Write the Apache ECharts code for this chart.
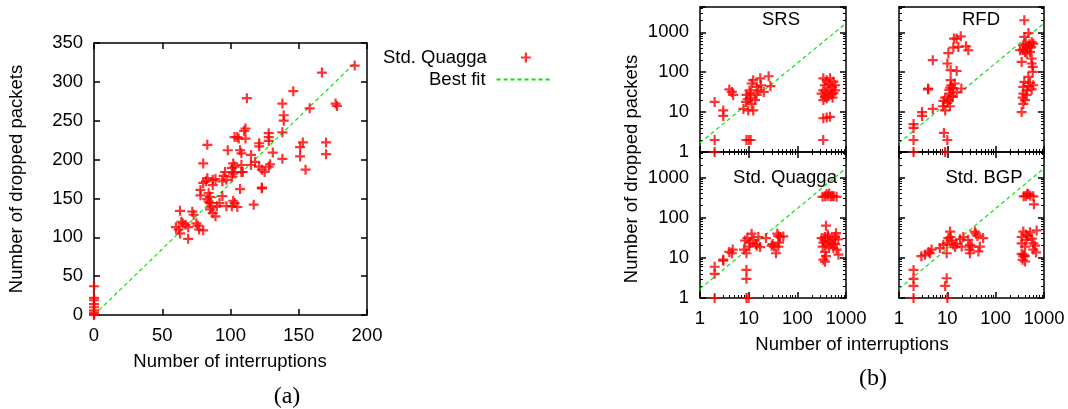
<!DOCTYPE html>
<html><head><meta charset="utf-8">
<script src="https://cdn.jsdelivr.net/npm/echarts@6/dist/echarts.min.js"></script>
<style>html,body{margin:0;padding:0;background:#fff}#c{width:1068px;height:409px}</style>
</head><body><div id="c"></div>
<script>
// ---------- DATA ----------
// (a) Std. Quagga: [interruptions, dropped packets]
const quaggaA = [
 [0,37],[0,22],[0,19],[0,14],[0,10],[0,6],[0,3],[0,1],[0,0],
 [191,321],[167,312],[146,288],[112,279],[138,272],[177,272],[178,269],[158,266],[139,257],[139,250],[138,235],
 [111,240],[110,237],[105,229],[106,227],[103,229],[111,227],[128,234],[128,229],[128,224],[121,221],[121,217],
 [83,219],[98,212],[107,212],[108,208],[115,206],[131,209],[138,201],[153,222],[151,216],[151,204],[155,187],
 [170,222],[170,207],[123,163],[117,142],[107,162],
 [80,195],[102,195],[103,191],[101,189],[108,193],[109,184],[102,184],[96,184],[95,179],[97,174],[89,175],
 [82,172],[87,167],[115,193],[118,197],[121,191],[123,187],[125,184],[128,191],[129,194],[123,164],
 [83,176],[87,174],[80,170],[94,172],[101,178],[102,182],[108,184],[78,161],[78,154],[84,157],[85,152],
 [83,149],[94,153],[84,146],[85,144],[86,139],[85,136],[87,131],[90,140],[92,144],[89,127],[97,140],
 [101,140],[102,147],[103,144],[105,139],[63,134],[72,133],[73,129],[64,120],[65,118],[60,113],[62,110],
 [67,116],[69,113],[75,118],[76,115],[77,110],[80,109],[63,105],[69,98]
];
const fitA = [[0,0],[191,324]];
const xTicksA = [0,50,100,150,200];
const yTicksA = [0,50,100,150,200,250,300,350];

// (b) panels: [interruptions, dropped packets]
const srs = [
 [2,18],[2,2],[2,1],[3,11],[3,8],[4,37],[4.5,32],[4.8,27],[9,2],[10,2],[11,2],
 [7.8,12],[8.8,18],[9,27],[10.4,35],[10.6,23],[11.5,52],[11.5,16],[12.4,63],[13.5,20],[14.6,27],[15.8,35],
 [17.3,70],[17.9,47],[20.4,32],[25.7,79],[28,45],[9.8,11],[12.4,11],[14.6,43],[11,30],[9.5,21],
 [340,2],[342,7],[401,7.3],[469,7.6],
 [342,70],[401,63],[469,70],[550,58],[368,47],[437,50],[510,43],[600,47],[342,35],[401,32],[469,35],
 [550,30],[315,29],[368,24],[437,25],[530,23],[342,20],[401,22],[510,28],[600,35]
];
const rfd = [
 [2,5],[2,4],[2,2],[2,1],[3,10],[3,8],[4,39],[4,37],[5,12],[5,200],[8.5,3],[10,2],[9,1],
 [10.5,300],[10,165],[11.7,112],[15.6,107],[11.7,63],[12,47],[11.5,41],[11,36],[13,39],[11.3,29],[12.1,25],
 [9,23],[8.3,19],[10,17],[10.5,20],[11.3,14],[9,11],[8.1,14],[13,24],[19.5,39],[15.6,32],[14.2,52],
 [13.3,414],[16.9,430],[18.9,794],[15.6,695],[13.7,695],[24.3,447],[27.2,355],
 [392,2000],[392,764],[475,955],[319,355],[362,369],[405,322],[438,414],[498,501],[556,572],[601,521],
 [513,322],[438,293],[373,473],[345,181],[556,220],[584,136],[556,165],[584,102],[475,76],[392,57],
 [601,47],[475,45],[556,37],[438,35],[373,29],[362,23],[405,20],[438,27],[373,16],[345,10],[513,54],
 [373,43],[450,400],[500,450],[420,520],[540,420]
];
const quaggaB = [
 [2,6],[2,4],[2,1],[3,9],[3,8.5],[4,14],[4.7,16],[4.5,13],[8,16],[9,13],[9,5],[9,3],[9,1],[10,1],
 [8.4,27],[9.4,31],[10.6,24],[11.5,40],[12.5,28],[10.3,19],[14.6,20],[17.1,18.5],[15.8,33],[22.7,31],[14,22],
 [40.6,35],[44,33],[38.8,40],[51.5,34],[29.7,20],[33,19],[31,22],[40.6,19],[42,24],[36.5,13],
 [330,330],[370,340],[400,390],[420,345],[450,400],[480,335],[520,345],[560,340],[640,330],
 [388,63],[316,31],[370,33],[433,34],[623,41],[594,33],[695,29],[469,26],[401,21],[332,19],[550,17.5],
 [643,16],[370,14],[388,11],[342,9],[370,8],[508,23],[550,29],[342,24],[420,38],[600,22],[700,12],[360,28],[450,19]
];
const bgp = [
 [2,5],[2,3],[2,2],[2,1],[9,2],[9.7,3.1],[10,1],[2.9,11],[3.45,12],[4.4,13],[4.7,16],[4.1,14],
 [7,17.5],[8.3,21],[9.7,23],[9.7,13],[10.5,31],[11.4,45],[12.3,27],[13.3,21],[14.4,18.5],[11.7,33],
 [15.6,22.4],[18.3,29],[21.4,33],[19.8,19],
 [37,45],[39,40],[42,35],[55,31],[27,28],[29.4,21],[28.5,16],[32,19],[44,14.4],[29.4,13],[47,19],
 [380,340],[420,345],[470,380],[520,350],[600,340],[620,215],[450,395],
 [373,45],[424,38],[513,43],[705,48],[345,33],[438,28],[601,23],[345,23],[405,19],[601,16],[684,13.6],
 [345,12.6],[373,10.8],[362,8.9],[405,8.1],[380,12],[400,11],[470,35],[560,30],[650,20]
];
const fitB = [[1,1.69],[1000,1690]];
const panelNames = ['SRS','RFD','Std. Quagga','Std. BGP'];
const panelData = [srs, rfd, quaggaB, bgp];
const logXRange = [1, 1000];
const logYRange = [1, 4300];

// ---------- STYLE / LAYOUT ----------
const RED = '#ff0000', GREEN = '#10e010';
const FONT = 'Liberation Sans, Arial, sans-serif';
const PLUS = 'path://M3.9,0H6.1V3.9H10V6.1H6.1V10H3.9V6.1H0V3.9H3.9Z';
const panelRects = [
  {left:700, top:7, width:146, height:145},
  {left:899, top:7, width:145, height:145},
  {left:700, top:152, width:146, height:146},
  {left:899, top:152, width:145, height:146}
];
const lineStyle = {color:'#000', width:1.5};
const lbl = {color:'#000', fontFamily:FONT, fontSize:18.5};

const grids = [{left:94, top:43, width:273, height:272}].concat(panelRects);
const xAxes = [], yAxes = [], series = [];

function linAxis(grid, pos, min, max, interval, showLabel){
  return {type:'value', gridIndex:grid, position:pos, min:min, max:max, interval:interval,
    axisLine:{show:true, onZero:false, lineStyle:lineStyle},
    axisTick:{show:true, inside:true, length:6, lineStyle:lineStyle},
    axisLabel:Object.assign({show:showLabel, margin:11}, lbl),
    splitLine:{show:false}};
}
function logFmt(v){ const l = Math.log10(v); return Math.abs(l - Math.round(l)) < 1e-6 ? String(Math.round(v)) : ''; }
function logAxis(grid, pos, range, showLabel, showTicks){
  return {type:'log', logBase:10, gridIndex:grid, position:pos, min:range[0], max:range[1],
    axisLine:{show:true, onZero:false, lineStyle:lineStyle},
    axisTick:{show:showTicks, inside:true, length:6, lineStyle:lineStyle},
    minorTick:{show:showTicks, splitNumber:9, length:3, lineStyle:{color:'#000', width:1}},
    axisLabel:Object.assign({show:showLabel, margin:11, formatter:logFmt}, lbl),
    splitLine:{show:false}, minorSplitLine:{show:false}};
}

// (a)
xAxes.push(linAxis(0,'bottom',xTicksA[0],xTicksA[xTicksA.length-1],xTicksA[1]-xTicksA[0],true));
xAxes.push(linAxis(0,'top',xTicksA[0],xTicksA[xTicksA.length-1],xTicksA[1]-xTicksA[0],false));
yAxes.push(linAxis(0,'left',yTicksA[0],yTicksA[yTicksA.length-1],yTicksA[1]-yTicksA[0],true));
yAxes.push(linAxis(0,'right',yTicksA[0],yTicksA[yTicksA.length-1],yTicksA[1]-yTicksA[0],false));
series.push({type:'scatter', name:'Std. Quagga', xAxisIndex:0, yAxisIndex:0, data:quaggaA,
  symbol:PLUS, symbolSize:10, itemStyle:{color:RED}, clip:false, z:3});
series.push({type:'line', name:'Best fit', xAxisIndex:0, yAxisIndex:0, data:fitA, symbol:'none',
  lineStyle:{color:GREEN, width:1.2, type:[4,3]}, itemStyle:{color:GREEN}, z:2});

// (b)
for (let p = 0; p < 4; p++){
  const g = p + 1, bottomRow = p >= 2, leftCol = p % 2 === 0;
  xAxes.push(logAxis(g,'bottom',logXRange,bottomRow,true));
  xAxes.push(logAxis(g,'top',logXRange,false,bottomRow));
  yAxes.push(logAxis(g,'left',logYRange,leftCol,true));
  yAxes.push(logAxis(g,'right',logYRange,false,true));
  const ai = 2 + 2*p;
  series.push({type:'scatter', name:panelNames[p] + ' ', xAxisIndex:ai, yAxisIndex:ai, data:panelData[p],
    symbol:PLUS, symbolSize:10, itemStyle:{color:RED}, clip:false, z:3});
  series.push({type:'line', name:'fit ' + p, xAxisIndex:ai, yAxisIndex:ai, data:fitB, symbol:'none',
    lineStyle:{color:GREEN, width:1.2, type:[4,3]}, z:2});
}

function txt(x, y, s, opts){
  return Object.assign({type:'text', x:x, y:y, silent:true,
    style:{text:s, fill:'#000', font:'18.5px ' + FONT, align:'center', verticalAlign:'middle'}}, opts || {});
}
const SERIF = '24px Liberation Serif, Times New Roman, serif';
const graphics = [
  txt(17, 179, 'Number of dropped packets', {rotation:Math.PI/2}),
  txt(230, 362, 'Number of interruptions'),
  {type:'text', x:287, y:397, silent:true, style:{text:'(a)', fill:'#000', font:SERIF, align:'center', verticalAlign:'middle'}},
  txt(632, 169, 'Number of dropped packets', {rotation:Math.PI/2}),
  txt(852, 345, 'Number of interruptions'),
  {type:'text', x:873, y:379, silent:true, style:{text:'(b)', fill:'#000', font:SERIF, align:'center', verticalAlign:'middle'}},
  txt(781, 20, panelNames[0]),
  txt(981, 20, panelNames[1]),
  txt(785, 178, panelNames[2]),
  txt(984, 178, panelNames[3])
];

const legendBase = {orient:'vertical', align:'right', padding:0, itemWidth:56, itemHeight:10,
  textStyle:{color:'#000', fontFamily:FONT, fontSize:18.5, padding:[0,6,0,0]}, selectedMode:false};

const chart = echarts.init(document.getElementById('c'), null, {renderer:'canvas'});
chart.setOption({
  animation:false,
  backgroundColor:'#fff',
  grid:grids,
  xAxis:xAxes,
  yAxis:yAxes,
  legend:[
    Object.assign({}, legendBase, {left:383, top:48, data:['Std. Quagga']}),
    Object.assign({}, legendBase, {left:429, top:70,
      data:[{name:'Best fit', itemStyle:{color:'rgba(0,0,0,0)', opacity:0, borderWidth:0}}]})
  ],
  graphic:graphics,
  series:series
});
</script></body></html>
